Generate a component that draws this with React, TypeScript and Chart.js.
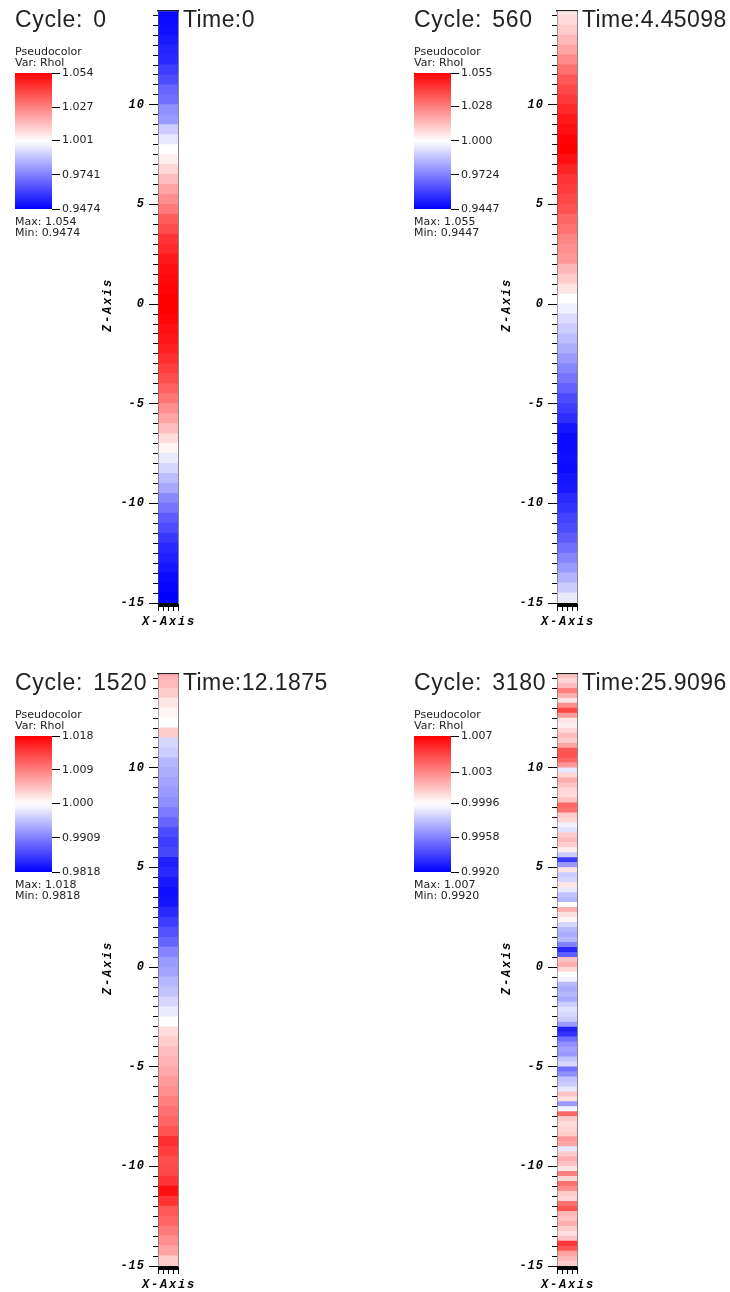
import React, { useEffect, useRef } from 'react';
import { Chart, registerables } from 'chart.js';

Chart.register(...registerables);

// z cell centres (top to bottom), 0.5 wide cells
const Z_CELLS = [
  14.75, 14.25, 13.75, 13.25, 12.75, 12.25, 11.75, 11.25, 10.75, 10.25,
  9.75, 9.25, 8.75, 8.25, 7.75, 7.25, 6.75, 6.25, 5.75, 5.25,
  4.75, 4.25, 3.75, 3.25, 2.75, 2.25, 1.75, 1.25, 0.75, 0.25,
  -0.25, -0.75, -1.25, -1.75, -2.25, -2.75, -3.25, -3.75, -4.25, -4.75,
  -5.25, -5.75, -6.25, -6.75, -7.25, -7.75, -8.25, -8.75, -9.25, -9.75,
  -10.25, -10.75, -11.25, -11.75, -12.25, -12.75, -13.25, -13.75, -14.25, -14.75,
];

// z cell centres (top to bottom), 0.25 wide cells (streaky late-time snapshot)
const Z_CELLS_FINE = [
  14.875, 14.625, 14.375, 14.125, 13.875, 13.625, 13.375, 13.125, 12.875, 12.625,
  12.375, 12.125, 11.875, 11.625, 11.375, 11.125, 10.875, 10.625, 10.375, 10.125,
  9.875, 9.625, 9.375, 9.125, 8.875, 8.625, 8.375, 8.125, 7.875, 7.625,
  7.375, 7.125, 6.875, 6.625, 6.375, 6.125, 5.875, 5.625, 5.375, 5.125,
  4.875, 4.625, 4.375, 4.125, 3.875, 3.625, 3.375, 3.125, 2.875, 2.625,
  2.375, 2.125, 1.875, 1.625, 1.375, 1.125, 0.875, 0.625, 0.375, 0.125,
  -0.125, -0.375, -0.625, -0.875, -1.125, -1.375, -1.625, -1.875, -2.125, -2.375,
  -2.625, -2.875, -3.125, -3.375, -3.625, -3.875, -4.125, -4.375, -4.625, -4.875,
  -5.125, -5.375, -5.625, -5.875, -6.125, -6.375, -6.625, -6.875, -7.125, -7.375,
  -7.625, -7.875, -8.125, -8.375, -8.625, -8.875, -9.125, -9.375, -9.625, -9.875,
  -10.125, -10.375, -10.625, -10.875, -11.125, -11.375, -11.625, -11.875, -12.125, -12.375,
  -12.625, -12.875, -13.125, -13.375, -13.625, -13.875, -14.125, -14.375, -14.625, -14.875,
];

const Z_MIN = -15;
const Z_MAX = 14.7;

// Rhol along z for each snapshot
const RHOL_CYCLE_0 = [
  0.9495, 0.9495, 0.9506, 0.9527, 0.9549, 0.9559, 0.9602, 0.9634, 0.9687, 0.9709,
  0.9772, 0.9794, 0.99, 0.9954, 1.0007, 1.0039, 1.0092, 1.0146, 1.0199, 1.0242,
  1.0284, 1.0348, 1.038, 1.0433, 1.0455, 1.0487, 1.0508, 1.0519, 1.0529, 1.054,
  1.054, 1.0529, 1.0508, 1.0497, 1.0476, 1.0444, 1.0412, 1.038, 1.0337, 1.0295,
  1.0242, 1.0199, 1.0146, 1.0082, 1.0028, 0.9964, 0.9922, 0.9868, 0.9826, 0.9762,
  0.9719, 0.9666, 0.9634, 0.9591, 0.9559, 0.9538, 0.9517, 0.9495, 0.9485, 0.9474,
];
const RHOL_CYCLE_560 = [
  1.0054, 1.0076, 1.0109, 1.0153, 1.0197, 1.0252, 1.0307, 1.0362, 1.0396, 1.0429,
  1.0462, 1.0495, 1.0517, 1.0539, 1.055, 1.0517, 1.0473, 1.044, 1.0418, 1.0396,
  1.0374, 1.0329, 1.0307, 1.0263, 1.0241, 1.0219, 1.0153, 1.0109, 1.0054, 0.9999,
  0.9965, 0.9921, 0.9888, 0.9855, 0.9822, 0.9778, 0.9734, 0.9701, 0.9657, 0.9612,
  0.9579, 0.9546, 0.9491, 0.9469, 0.9469, 0.948, 0.9469, 0.9491, 0.9502, 0.9535,
  0.9557, 0.959, 0.9612, 0.9646, 0.969, 0.9734, 0.9778, 0.9833, 0.9888, 0.9954,
];
const RHOL_CYCLE_1520 = [
  1.0057, 1.005, 1.0035, 1.0017, 1.0006, 0.9999, 1.0035, 0.997, 0.9963, 0.9948,
  0.9941, 0.9934, 0.9927, 0.9919, 0.9905, 0.989, 0.9872, 0.9861, 0.9869, 0.984,
  0.9847, 0.9836, 0.9829, 0.9832, 0.9847, 0.9861, 0.9876, 0.989, 0.9912, 0.9927,
  0.9934, 0.9948, 0.9956, 0.997, 0.9985, 0.9999, 1.0024, 1.0035, 1.0046, 1.0053,
  1.0061, 1.0071, 1.0079, 1.009, 1.01, 1.0108, 1.0122, 1.0147, 1.0137, 1.0126,
  1.0129, 1.0144, 1.0169, 1.0144, 1.0118, 1.0108, 1.0093, 1.0079, 1.0064, 1.0035,
];
const RHOL_CYCLE_3180 = [
  1.001, 1.0013, 1.0007, 1.0015, 1.0033, 1.0019, 1.0003, 1.0028, 1.0049, 1.0025,
  1.0003, 1.0, 1.0007, 1.0015, 1.001, 1.0022, 1.0045, 1.0046, 1.004, 1.0025,
  0.9988, 1.0007, 1.0019, 1.0013, 1.0007, 1.0006, 1.0013, 1.004, 1.0037, 1.001,
  1.0007, 0.9991, 0.9986, 1.001, 1.0015, 1.001, 1.0, 0.998, 0.9938, 0.9965,
  1.0003, 0.998, 0.9983, 1.0003, 0.9988, 0.9977, 0.9974, 0.9995, 1.0018, 1.0004,
  0.9998, 0.9983, 0.9974, 0.9971, 0.9974, 0.9958, 0.9932, 0.9947, 1.0013, 1.0019,
  1.0007, 0.9995, 0.9991, 0.9974, 0.9971, 0.9974, 0.997, 0.998, 0.9986, 0.9983,
  0.998, 0.9965, 0.9929, 0.9935, 0.9953, 0.9962, 0.9968, 0.9965, 0.9977, 0.9983,
  0.9953, 0.9962, 0.9977, 0.998, 0.9988, 1.0013, 1.0004, 0.9965, 0.9992, 1.004,
  1.001, 1.0006, 1.0007, 1.001, 1.0025, 1.0022, 0.9988, 1.001, 1.0019, 1.0013,
  1.0003, 1.0033, 1.0007, 1.0037, 1.0028, 1.001, 1.0007, 1.0037, 1.0046, 1.0016,
  1.0013, 1.0019, 1.001, 1.0004, 1.0013, 1.0055, 1.0046, 1.0022, 1.0016, 1.001,
];

const CYCLES = ['0', '560', '1520', '3180'];
const TIMES = ['0', '4.45098', '12.1875', '25.9096'];
const RHOL_MIN = [0.9474, 0.9447, 0.9818, 0.992];
const RHOL_MAX = [1.054, 1.055, 1.018, 1.007];
const MAX_LABELS = ['1.054', '1.055', '1.018', '1.007'];
const MIN_LABELS = ['0.9474', '0.9447', '0.9818', '0.9920'];

// legend tick labels, bottom to top
const LEGEND_TICKS_0 = ['0.9474', '0.9741', '1.001', '1.027', '1.054'];
const LEGEND_TICKS_560 = ['0.9447', '0.9724', '1.000', '1.028', '1.055'];
const LEGEND_TICKS_1520 = ['0.9818', '0.9909', '1.000', '1.009', '1.018'];
const LEGEND_TICKS_3180 = ['0.9920', '0.9958', '0.9996', '1.003', '1.007'];

const X_TICK_STEP = 0.25;
const Z_MAJOR_STEP = 5;
const Z_MINOR_STEP = 0.5;

const SERIES = [RHOL_CYCLE_0, RHOL_CYCLE_560, RHOL_CYCLE_1520, RHOL_CYCLE_3180];
const SERIES_Z = [Z_CELLS, Z_CELLS, Z_CELLS, Z_CELLS_FINE];
const LEGEND_TICKS = [LEGEND_TICKS_0, LEGEND_TICKS_560, LEGEND_TICKS_1520, LEGEND_TICKS_3180];

const PANEL_POS = [
  { left: 0, top: 0 },
  { left: 399, top: 0 },
  { left: 0, top: 663 },
  { left: 399, top: 663 },
];

function colorFor(v: number, min: number, max: number): string {
  let t = (v - min) / (max - min);
  t = Math.max(0, Math.min(1, t));
  if (t < 0.5) {
    const s = t / 0.5;
    const c = Math.round(255 * s);
    return `rgb(${c},${c},255)`;
  }
  const s = (t - 0.5) / 0.5;
  const c = Math.round(255 * (1 - s));
  return `rgb(255,${c},${c})`;
}

const MONO = '"Liberation Mono", "DejaVu Sans Mono", monospace';
const AXIS_FONT = { family: MONO, size: 12, style: 'italic' as const, weight: 'bold' as const };

const spacingPlugin = {
  id: 'letterSpacing',
  beforeDraw(chart: any) {
    chart.ctx.letterSpacing = '1px';
  },
  afterDraw(chart: any) {
    chart.ctx.letterSpacing = '0px';
  },
};

// black band under the column, like the reference x-axis base
const baseBandPlugin = {
  id: 'baseBand',
  afterDraw(chart: any) {
    const { ctx, chartArea } = chart;
    ctx.save();
    ctx.fillStyle = '#000';
    ctx.fillRect(chartArea.left, chartArea.bottom, chartArea.right - chartArea.left, 4);
    ctx.restore();
  },
};

function Panel({ idx }: { idx: number }) {
  const mainRef = useRef<HTMLCanvasElement>(null);
  const legRef = useRef<HTMLCanvasElement>(null);

  useEffect(() => {
    const values = SERIES[idx];
    const zs = SERIES_Z[idx];
    const min = RHOL_MIN[idx];
    const max = RHOL_MAX[idx];
    const colors = values.map((v) => colorFor(v, min, max));

    const main = new Chart(mainRef.current as HTMLCanvasElement, {
      type: 'bar',
      data: {
        datasets: [
          {
            data: zs.map((z) => ({ y: z, x: [0, 1] })) as any,
            backgroundColor: colors,
            borderWidth: 0,
            barPercentage: 1.1,
            categoryPercentage: 1,
          },
        ],
      },
      options: {
        indexAxis: 'y',
        animation: false,
        responsive: false,
        maintainAspectRatio: false,
        events: [],
        layout: { padding: { left: 100, right: 187, top: 7, bottom: 0 } },
        plugins: { legend: { display: false }, tooltip: { enabled: false } },
        scales: {
          x: {
            type: 'linear',
            position: 'bottom',
            min: 0,
            max: 1,
            ticks: { display: false, stepSize: X_TICK_STEP },
            grid: { drawOnChartArea: false, tickLength: 8, tickColor: '#000', offset: false },
            border: { display: false },
            afterFit: (s: any) => {
              s.height = 26;
            },
          },
          y: {
            type: 'linear',
            position: 'left',
            weight: 1,
            min: Z_MIN,
            max: Z_MAX,
            offset: false,
            ticks: {
              stepSize: Z_MAJOR_STEP,
              autoSkip: false,
              includeBounds: false,
              font: AXIS_FONT,
              color: '#000',
              padding: 4,
              callback: (v: any) => String(v),
            },
            grid: { drawOnChartArea: false, tickLength: 9, tickColor: '#000', offset: false },
            border: { display: false },
            afterFit: (s: any) => {
              s.width = 58;
            },
          },
          yMinor: {
            type: 'linear',
            position: 'left',
            weight: 0,
            min: Z_MIN,
            max: Z_MAX,
            offset: false,
            ticks: { display: false, stepSize: Z_MINOR_STEP, includeBounds: false },
            grid: { drawOnChartArea: false, tickLength: 5, tickColor: '#000', offset: false },
            border: { color: '#555', width: 1 },
            afterFit: (s: any) => {
              s.width = 0;
            },
          },
          yRight: {
            type: 'linear',
            position: 'right',
            min: Z_MIN,
            max: Z_MAX,
            ticks: { display: false },
            grid: { drawOnChartArea: false, drawTicks: false },
            border: { color: '#888', width: 2 },
            afterFit: (s: any) => {
              s.width = 0;
            },
          },
          xTop: {
            type: 'linear',
            position: 'top',
            min: 0,
            max: 1,
            ticks: { display: false },
            grid: { drawOnChartArea: false, drawTicks: false },
            border: { color: '#222', width: 1.5 },
            afterFit: (s: any) => {
              s.height = 0;
            },
          },
        },
      } as any,
      plugins: [spacingPlugin, baseBandPlugin],
    });

    const labels = LEGEND_TICKS[idx];
    const tickVals = labels.map((l) => parseFloat(l));
    const leg = new Chart(legRef.current as HTMLCanvasElement, {
      type: 'bar',
      data: {
        labels: ['Rhol'],
        datasets: [
          {
            data: [[min, max]] as any,
            backgroundColor: (ctx: any) => {
              const area = ctx.chart.chartArea;
              if (!area) return 'rgb(255,255,255)';
              const g = ctx.chart.ctx.createLinearGradient(0, area.bottom, 0, area.top);
              g.addColorStop(0, 'rgb(0,0,255)');
              g.addColorStop(0.5, 'rgb(255,255,255)');
              g.addColorStop(1, 'rgb(255,0,0)');
              return g;
            },
            borderWidth: 0,
            barPercentage: 1,
            categoryPercentage: 1,
          },
        ],
      },
      options: {
        animation: false,
        responsive: false,
        maintainAspectRatio: false,
        events: [],
        layout: { padding: { left: 15, top: 73, right: 0, bottom: 41 } },
        plugins: { legend: { display: false }, tooltip: { enabled: false } },
        scales: {
          x: { display: false },
          y: {
            type: 'linear',
            position: 'right',
            min,
            max,
            afterBuildTicks: (s: any) => {
              s.ticks = tickVals.map((v) => ({ value: v }));
            },
            ticks: {
              autoSkip: false,
              padding: 2,
              color: '#222',
              font: { family: '"DejaVu Sans", sans-serif', size: 11 },
              callback: (_v: any, i: number) => labels[i],
            },
            grid: { drawOnChartArea: false, tickLength: 8, tickColor: '#000', offset: false },
            border: { display: false },
            afterFit: (s: any) => {
              s.width = 118;
            },
          },
        },
      } as any,
    });

    return () => {
      main.destroy();
      leg.destroy();
    };
  }, [idx]);

  const pos = PANEL_POS[idx];
  const bigText: React.CSSProperties = {
    position: 'absolute',
    top: 8,
    fontFamily: '"Liberation Sans", Arial, sans-serif',
    fontWeight: 400,
    fontSize: 23,
    lineHeight: '23px',
    color: '#222',
    whiteSpace: 'pre',
    letterSpacing: '0.4px',
  };
  const smallText: React.CSSProperties = {
    position: 'absolute',
    left: 15,
    fontFamily: '"DejaVu Sans", sans-serif',
    fontWeight: 400,
    fontSize: 11,
    lineHeight: '11px',
    color: '#222',
    whiteSpace: 'nowrap',
  };
  const axisTitle: React.CSSProperties = {
    position: 'absolute',
    fontFamily: MONO,
    fontWeight: 'bold',
    fontStyle: 'italic',
    fontSize: 12,
    lineHeight: '12px',
    letterSpacing: '1.8px',
    color: '#000',
    whiteSpace: 'nowrap',
  };

  return (
    <div style={{ position: 'absolute', left: pos.left, top: pos.top, width: 365, height: 629 }}>
      <canvas ref={mainRef} width={365} height={629} style={{ position: 'absolute', left: 0, top: 0, width: 365, height: 629 }} />
      <canvas ref={legRef} width={170} height={250} style={{ position: 'absolute', left: 0, top: 0, width: 170, height: 250 }} />
      <div style={{ ...bigText, left: 15, letterSpacing: '0.7px', wordSpacing: 3 }}>Cycle: {CYCLES[idx]}</div>
      <div style={{ ...bigText, left: 183 }}>Time:{TIMES[idx]}</div>
      <div style={{ ...smallText, top: 46 }}>
        Pseudocolor
        <br />
        Var: Rhol
      </div>
      <div style={{ ...smallText, top: 216 }}>
        Max: {MAX_LABELS[idx]}
        <br />
        Min: {MIN_LABELS[idx]}
      </div>
      <div style={{ ...axisTitle, left: 169, top: 622, transform: 'translate(-50%, -50%)' }}>X-Axis</div>
      <div style={{ ...axisTitle, left: 108, top: 305, transform: 'translate(-50%, -50%) rotate(-90deg)' }}>Z-Axis</div>
    </div>
  );
}

export default function App() {
  return (
    <div style={{ position: 'absolute', left: 0, top: 0, width: 730, height: 1292, background: '#fff', overflow: 'hidden' }}>
      {[0, 1, 2, 3].map((i) => (
        <Panel key={i} idx={i} />
      ))}
    </div>
  );
}
